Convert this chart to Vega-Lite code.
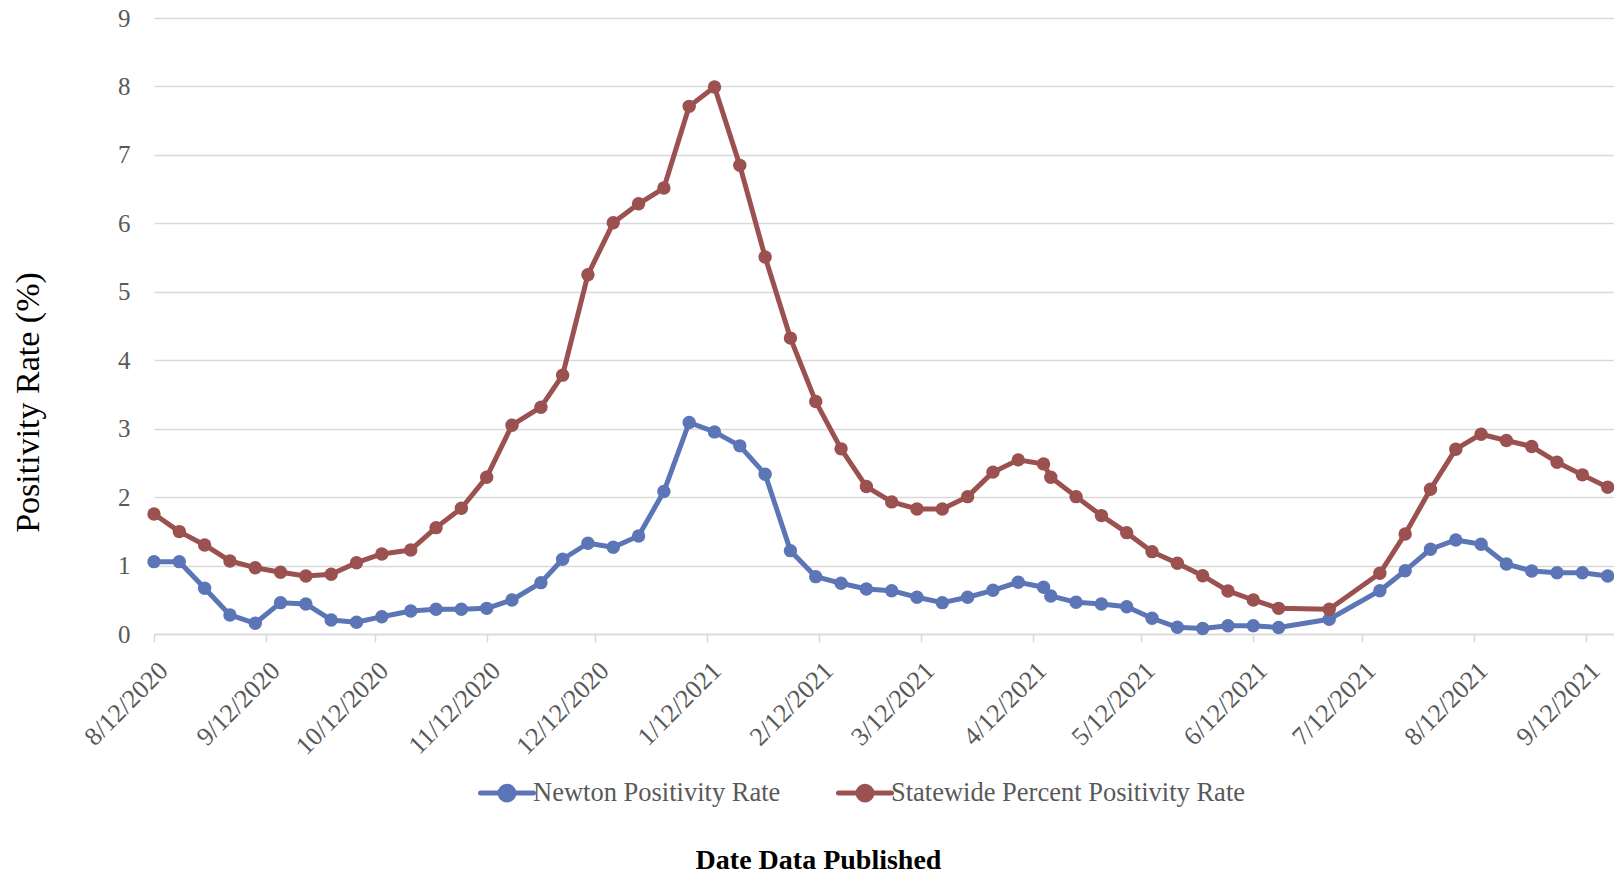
{
  "$schema": "https://vega.github.io/schema/vega-lite/v6.json",
  "width": 1460,
  "height": 616,
  "autosize": {"type": "none"},
  "padding": {"left": 154, "top": 18, "right": 0, "bottom": 239},
  "background": "#ffffff",
  "config": {
    "font": "Liberation Serif",
    "view": {"stroke": null}
  },
  "datasets": {
    "rates": [
      {"date": "2020-08-12", "series": "Newton Positivity Rate", "value": 1.057},
      {"date": "2020-08-19", "series": "Newton Positivity Rate", "value": 1.057},
      {"date": "2020-08-26", "series": "Newton Positivity Rate", "value": 0.668},
      {"date": "2020-09-02", "series": "Newton Positivity Rate", "value": 0.278},
      {"date": "2020-09-09", "series": "Newton Positivity Rate", "value": 0.156},
      {"date": "2020-09-16", "series": "Newton Positivity Rate", "value": 0.458},
      {"date": "2020-09-23", "series": "Newton Positivity Rate", "value": 0.439},
      {"date": "2020-09-30", "series": "Newton Positivity Rate", "value": 0.205},
      {"date": "2020-10-07", "series": "Newton Positivity Rate", "value": 0.171},
      {"date": "2020-10-14", "series": "Newton Positivity Rate", "value": 0.253},
      {"date": "2020-10-22", "series": "Newton Positivity Rate", "value": 0.336},
      {"date": "2020-10-29", "series": "Newton Positivity Rate", "value": 0.361},
      {"date": "2020-11-05", "series": "Newton Positivity Rate", "value": 0.361},
      {"date": "2020-11-12", "series": "Newton Positivity Rate", "value": 0.375},
      {"date": "2020-11-19", "series": "Newton Positivity Rate", "value": 0.497},
      {"date": "2020-11-27", "series": "Newton Positivity Rate", "value": 0.750},
      {"date": "2020-12-03", "series": "Newton Positivity Rate", "value": 1.092},
      {"date": "2020-12-10", "series": "Newton Positivity Rate", "value": 1.326},
      {"date": "2020-12-17", "series": "Newton Positivity Rate", "value": 1.267},
      {"date": "2020-12-24", "series": "Newton Positivity Rate", "value": 1.433},
      {"date": "2020-12-31", "series": "Newton Positivity Rate", "value": 2.081},
      {"date": "2021-01-07", "series": "Newton Positivity Rate", "value": 3.090},
      {"date": "2021-01-14", "series": "Newton Positivity Rate", "value": 2.953},
      {"date": "2021-01-21", "series": "Newton Positivity Rate", "value": 2.749},
      {"date": "2021-01-28", "series": "Newton Positivity Rate", "value": 2.335},
      {"date": "2021-02-04", "series": "Newton Positivity Rate", "value": 1.218},
      {"date": "2021-02-11", "series": "Newton Positivity Rate", "value": 0.838},
      {"date": "2021-02-18", "series": "Newton Positivity Rate", "value": 0.741},
      {"date": "2021-02-25", "series": "Newton Positivity Rate", "value": 0.658},
      {"date": "2021-03-04", "series": "Newton Positivity Rate", "value": 0.633},
      {"date": "2021-03-11", "series": "Newton Positivity Rate", "value": 0.537},
      {"date": "2021-03-18", "series": "Newton Positivity Rate", "value": 0.458},
      {"date": "2021-03-25", "series": "Newton Positivity Rate", "value": 0.537},
      {"date": "2021-04-01", "series": "Newton Positivity Rate", "value": 0.638},
      {"date": "2021-04-08", "series": "Newton Positivity Rate", "value": 0.756},
      {"date": "2021-04-15", "series": "Newton Positivity Rate", "value": 0.683},
      {"date": "2021-04-17", "series": "Newton Positivity Rate", "value": 0.556},
      {"date": "2021-04-24", "series": "Newton Positivity Rate", "value": 0.463},
      {"date": "2021-05-01", "series": "Newton Positivity Rate", "value": 0.439},
      {"date": "2021-05-08", "series": "Newton Positivity Rate", "value": 0.399},
      {"date": "2021-05-15", "series": "Newton Positivity Rate", "value": 0.230},
      {"date": "2021-05-22", "series": "Newton Positivity Rate", "value": 0.098},
      {"date": "2021-05-29", "series": "Newton Positivity Rate", "value": 0.080},
      {"date": "2021-06-05", "series": "Newton Positivity Rate", "value": 0.121},
      {"date": "2021-06-12", "series": "Newton Positivity Rate", "value": 0.121},
      {"date": "2021-06-19", "series": "Newton Positivity Rate", "value": 0.095},
      {"date": "2021-07-03", "series": "Newton Positivity Rate", "value": 0.215},
      {"date": "2021-07-17", "series": "Newton Positivity Rate", "value": 0.633},
      {"date": "2021-07-24", "series": "Newton Positivity Rate", "value": 0.925},
      {"date": "2021-07-31", "series": "Newton Positivity Rate", "value": 1.238},
      {"date": "2021-08-07", "series": "Newton Positivity Rate", "value": 1.374},
      {"date": "2021-08-14", "series": "Newton Positivity Rate", "value": 1.311},
      {"date": "2021-08-21", "series": "Newton Positivity Rate", "value": 1.023},
      {"date": "2021-08-28", "series": "Newton Positivity Rate", "value": 0.921},
      {"date": "2021-09-04", "series": "Newton Positivity Rate", "value": 0.896},
      {"date": "2021-09-11", "series": "Newton Positivity Rate", "value": 0.896},
      {"date": "2021-09-18", "series": "Newton Positivity Rate", "value": 0.848},
      {"date": "2020-08-12", "series": "Statewide Percent Positivity Rate", "value": 1.754},
      {"date": "2020-08-19", "series": "Statewide Percent Positivity Rate", "value": 1.496},
      {"date": "2020-08-26", "series": "Statewide Percent Positivity Rate", "value": 1.301},
      {"date": "2020-09-02", "series": "Statewide Percent Positivity Rate", "value": 1.067},
      {"date": "2020-09-09", "series": "Statewide Percent Positivity Rate", "value": 0.969},
      {"date": "2020-09-16", "series": "Statewide Percent Positivity Rate", "value": 0.902},
      {"date": "2020-09-23", "series": "Statewide Percent Positivity Rate", "value": 0.848},
      {"date": "2020-09-30", "series": "Statewide Percent Positivity Rate", "value": 0.873},
      {"date": "2020-10-07", "series": "Statewide Percent Positivity Rate", "value": 1.042},
      {"date": "2020-10-14", "series": "Statewide Percent Positivity Rate", "value": 1.170},
      {"date": "2020-10-22", "series": "Statewide Percent Positivity Rate", "value": 1.228},
      {"date": "2020-10-29", "series": "Statewide Percent Positivity Rate", "value": 1.554},
      {"date": "2020-11-05", "series": "Statewide Percent Positivity Rate", "value": 1.837},
      {"date": "2020-11-12", "series": "Statewide Percent Positivity Rate", "value": 2.291},
      {"date": "2020-11-19", "series": "Statewide Percent Positivity Rate", "value": 3.051},
      {"date": "2020-11-27", "series": "Statewide Percent Positivity Rate", "value": 3.314},
      {"date": "2020-12-03", "series": "Statewide Percent Positivity Rate", "value": 3.782},
      {"date": "2020-12-10", "series": "Statewide Percent Positivity Rate", "value": 5.249},
      {"date": "2020-12-17", "series": "Statewide Percent Positivity Rate", "value": 6.008},
      {"date": "2020-12-24", "series": "Statewide Percent Positivity Rate", "value": 6.285},
      {"date": "2020-12-31", "series": "Statewide Percent Positivity Rate", "value": 6.516},
      {"date": "2021-01-07", "series": "Statewide Percent Positivity Rate", "value": 7.709},
      {"date": "2021-01-14", "series": "Statewide Percent Positivity Rate", "value": 7.992},
      {"date": "2021-01-21", "series": "Statewide Percent Positivity Rate", "value": 6.847},
      {"date": "2021-01-28", "series": "Statewide Percent Positivity Rate", "value": 5.507},
      {"date": "2021-02-04", "series": "Statewide Percent Positivity Rate", "value": 4.323},
      {"date": "2021-02-11", "series": "Statewide Percent Positivity Rate", "value": 3.396},
      {"date": "2021-02-18", "series": "Statewide Percent Positivity Rate", "value": 2.705},
      {"date": "2021-02-25", "series": "Statewide Percent Positivity Rate", "value": 2.154},
      {"date": "2021-03-04", "series": "Statewide Percent Positivity Rate", "value": 1.930},
      {"date": "2021-03-11", "series": "Statewide Percent Positivity Rate", "value": 1.827},
      {"date": "2021-03-18", "series": "Statewide Percent Positivity Rate", "value": 1.827},
      {"date": "2021-03-25", "series": "Statewide Percent Positivity Rate", "value": 2.007},
      {"date": "2021-04-01", "series": "Statewide Percent Positivity Rate", "value": 2.365},
      {"date": "2021-04-08", "series": "Statewide Percent Positivity Rate", "value": 2.544},
      {"date": "2021-04-15", "series": "Statewide Percent Positivity Rate", "value": 2.485},
      {"date": "2021-04-17", "series": "Statewide Percent Positivity Rate", "value": 2.291},
      {"date": "2021-04-24", "series": "Statewide Percent Positivity Rate", "value": 2.007},
      {"date": "2021-05-01", "series": "Statewide Percent Positivity Rate", "value": 1.730},
      {"date": "2021-05-08", "series": "Statewide Percent Positivity Rate", "value": 1.481},
      {"date": "2021-05-15", "series": "Statewide Percent Positivity Rate", "value": 1.203},
      {"date": "2021-05-22", "series": "Statewide Percent Positivity Rate", "value": 1.034},
      {"date": "2021-05-29", "series": "Statewide Percent Positivity Rate", "value": 0.852},
      {"date": "2021-06-05", "series": "Statewide Percent Positivity Rate", "value": 0.629},
      {"date": "2021-06-12", "series": "Statewide Percent Positivity Rate", "value": 0.497},
      {"date": "2021-06-19", "series": "Statewide Percent Positivity Rate", "value": 0.375},
      {"date": "2021-07-03", "series": "Statewide Percent Positivity Rate", "value": 0.361},
      {"date": "2021-07-17", "series": "Statewide Percent Positivity Rate", "value": 0.887},
      {"date": "2021-07-24", "series": "Statewide Percent Positivity Rate", "value": 1.462},
      {"date": "2021-07-31", "series": "Statewide Percent Positivity Rate", "value": 2.115},
      {"date": "2021-08-07", "series": "Statewide Percent Positivity Rate", "value": 2.700},
      {"date": "2021-08-14", "series": "Statewide Percent Positivity Rate", "value": 2.919},
      {"date": "2021-08-21", "series": "Statewide Percent Positivity Rate", "value": 2.827},
      {"date": "2021-08-28", "series": "Statewide Percent Positivity Rate", "value": 2.739},
      {"date": "2021-09-04", "series": "Statewide Percent Positivity Rate", "value": 2.510},
      {"date": "2021-09-11", "series": "Statewide Percent Positivity Rate", "value": 2.325},
      {"date": "2021-09-18", "series": "Statewide Percent Positivity Rate", "value": 2.145}
    ]
  },
  "data": {"name": "rates"},
  "encoding": {
    "x": {
      "field": "date",
      "type": "temporal",
      "scale": {
        "type": "utc",
        "domain": [
          {"year": 2020, "month": 8, "date": 12, "utc": true},
          {"year": 2021, "month": 9, "date": 19, "hours": 18, "utc": true}
        ]
      },
      "axis": {
        "title": "Date Data Published",
        "titleFont": "Liberation Serif",
        "titleFontSize": 28,
        "titleFontWeight": "bold",
        "titleColor": "#000000",
        "titleX": 664,
        "titleY": 234,
        "titleAlign": "center",
        "titleBaseline": "alphabetic",
        "values": [
          {"year": 2020, "month": 8, "date": 12, "utc": true},
          {"year": 2020, "month": 9, "date": 12, "utc": true},
          {"year": 2020, "month": 10, "date": 12, "utc": true},
          {"year": 2020, "month": 11, "date": 12, "utc": true},
          {"year": 2020, "month": 12, "date": 12, "utc": true},
          {"year": 2021, "month": 1, "date": 12, "utc": true},
          {"year": 2021, "month": 2, "date": 12, "utc": true},
          {"year": 2021, "month": 3, "date": 12, "utc": true},
          {"year": 2021, "month": 4, "date": 12, "utc": true},
          {"year": 2021, "month": 5, "date": 12, "utc": true},
          {"year": 2021, "month": 6, "date": 12, "utc": true},
          {"year": 2021, "month": 7, "date": 12, "utc": true},
          {"year": 2021, "month": 8, "date": 12, "utc": true},
          {"year": 2021, "month": 9, "date": 12, "utc": true}
        ],
        "labelExpr": "utcFormat(datum.value, '%-m/%-d/%Y')",
        "labelAngle": -45,
        "labelFontSize": 26,
        "labelColor": "#595959",
        "labelPadding": 15,
        "labelOverlap": false,
        "labelFlush": false,
        "grid": false,
        "domainColor": "#D9D9D9",
        "domainWidth": 1.5,
        "tickColor": "#D9D9D9",
        "tickWidth": 1.5,
        "tickSize": 8
      }
    },
    "y": {
      "field": "value",
      "type": "quantitative",
      "scale": {"domain": [0, 9], "nice": false, "zero": true},
      "axis": {
        "title": "Positivity Rate (%)",
        "titleFont": "Liberation Serif",
        "titleFontSize": 34,
        "titleFontWeight": "normal",
        "titleColor": "#000000",
        "titleAngle": -90,
        "titleX": -116,
        "titleY": 384,
        "titleAlign": "center",
        "titleBaseline": "alphabetic",
        "values": [0, 1, 2, 3, 4, 5, 6, 7, 8, 9],
        "labelFontSize": 25,
        "labelColor": "#595959",
        "labelPadding": 24,
        "ticks": false,
        "tickSize": 0,
        "domain": false,
        "grid": true,
        "gridColor": "#D9D9D9",
        "gridWidth": 1.5
      }
    },
    "color": {
      "field": "series",
      "type": "nominal",
      "scale": {
        "domain": ["Newton Positivity Rate", "Statewide Percent Positivity Rate"],
        "range": ["#5B75B6", "#9B5150"]
      },
      "legend": {
        "title": null,
        "orient": "none",
        "direction": "horizontal",
        "legendX": 324,
        "legendY": 746,
        "padding": 0,
        "symbolType": "M-1,0L1,0M0.26,0A0.26,0.26,0,1,1,-0.26,0A0.26,0.26,0,1,1,0.26,0Z",
        "symbolSize": 2809,
        "symbolStrokeWidth": 5,
        "labelFontSize": 26.5,
        "labelColor": "#595959",
        "labelLimit": 800,
        "labelOffset": -3,
        "columnPadding": 47,
        "encode": {
          "symbols": {
            "update": {
              "fill": {"scale": "color", "field": "value"},
              "stroke": {"scale": "color", "field": "value"},
              "opacity": {"value": 1},
              "fillOpacity": {"value": 1},
              "strokeCap": {"value": "round"}
            }
          }
        }
      }
    }
  },
  "layer": [
    {"mark": {"type": "line", "strokeWidth": 5, "strokeJoin": "round", "strokeCap": "round"}},
    {"mark": {"type": "point", "filled": true, "size": 180, "opacity": 1}}
  ]
}
